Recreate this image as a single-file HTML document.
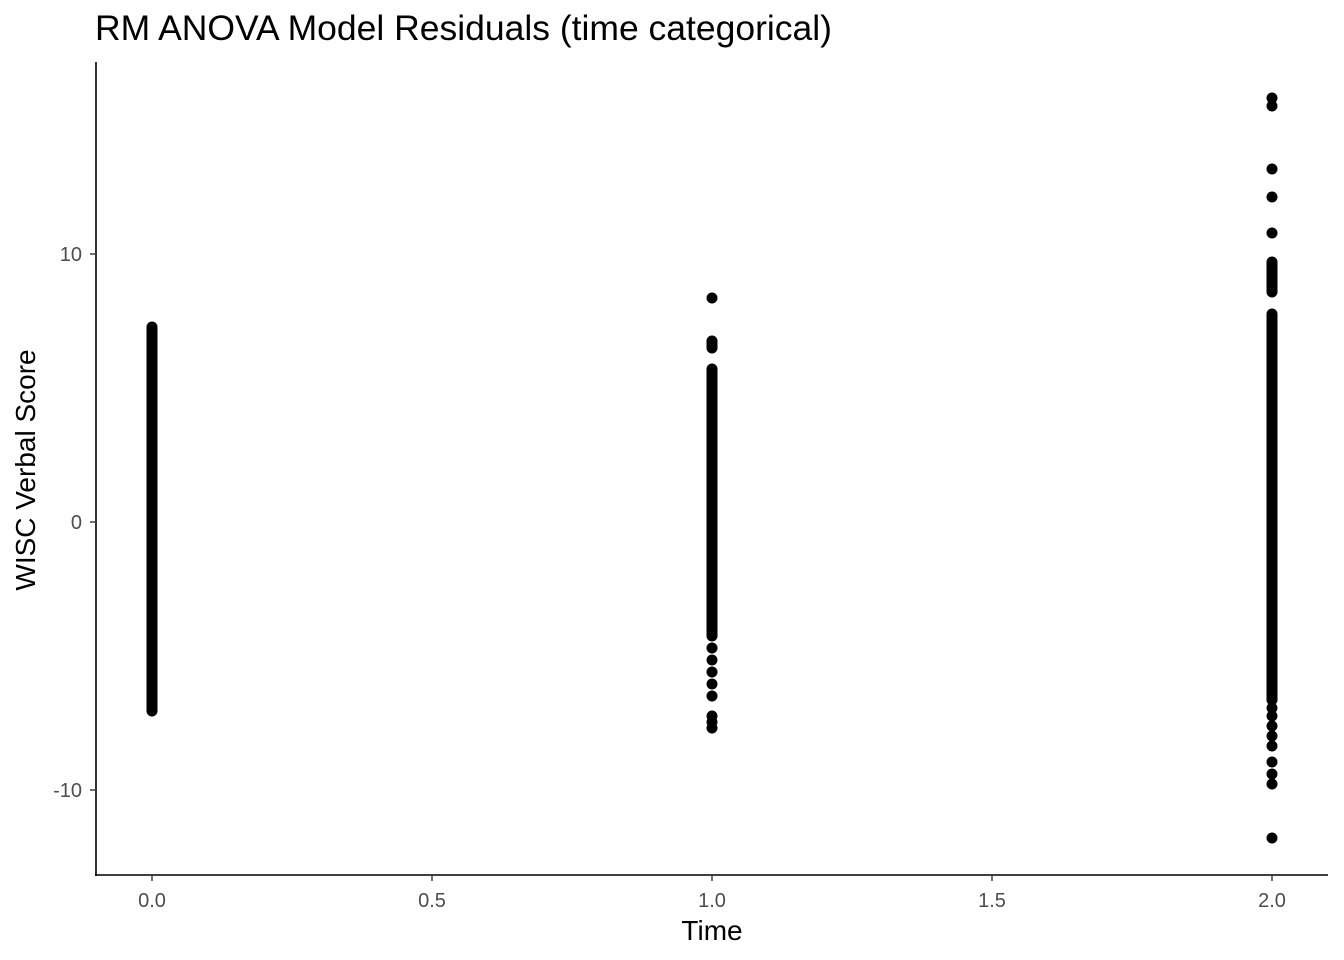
<!DOCTYPE html>
<html><head><meta charset="utf-8"><style>
html,body{margin:0;padding:0;background:#fff;}
svg{display:block;font-family:"Liberation Sans",Arial,sans-serif;}
</style></head><body>
<svg width="1344" height="960" viewBox="0 0 1344 960">
<rect width="1344" height="960" fill="#fff"/>
<text x="95" y="40" font-size="35" fill="#000" textLength="737" lengthAdjust="spacingAndGlyphs">RM ANOVA Model Residuals (time categorical)</text>
<line x1="96" y1="62" x2="96" y2="876" stroke="#000" stroke-width="1.6"/>
<line x1="95" y1="875" x2="1328" y2="875" stroke="#000" stroke-width="1.6"/>
<g stroke="#333" stroke-width="1.4">
<line x1="90" y1="254" x2="96" y2="254"/><line x1="90" y1="522" x2="96" y2="522"/><line x1="90" y1="790" x2="96" y2="790"/>
<line x1="152" y1="875" x2="152" y2="881"/><line x1="432" y1="875" x2="432" y2="881"/><line x1="712" y1="875" x2="712" y2="881"/><line x1="992" y1="875" x2="992" y2="881"/><line x1="1272" y1="875" x2="1272" y2="881"/>
</g>
<g font-size="20" fill="#4d4d4d" text-anchor="end">
<text x="82" y="261">10</text><text x="82" y="529">0</text><text x="82" y="797">-10</text>
</g>
<g font-size="20" fill="#4d4d4d" text-anchor="middle">
<text x="152" y="907">0.0</text><text x="432" y="907">0.5</text><text x="712" y="907">1.0</text><text x="992" y="907">1.5</text><text x="1272" y="907">2.0</text>
</g>
<text x="712" y="940" font-size="28" text-anchor="middle" fill="#000">Time</text>
<text transform="translate(35,470) rotate(-90)" font-size="28" text-anchor="middle" fill="#000">WISC Verbal Score</text>
<g stroke="#000" stroke-width="11" stroke-linecap="round">
<line x1="152" y1="327" x2="152" y2="711"/>
<line x1="712" y1="341" x2="712" y2="348"/>
<line x1="712" y1="369" x2="712" y2="636"/>
<line x1="1272" y1="262" x2="1272" y2="292"/>
<line x1="1272" y1="314" x2="1272" y2="700"/>
</g>
<g fill="#000">
<circle cx="712" cy="298" r="5.5"/>
<circle cx="712" cy="648" r="5.5"/><circle cx="712" cy="660" r="5.5"/><circle cx="712" cy="672" r="5.5"/><circle cx="712" cy="684" r="5.5"/><circle cx="712" cy="696" r="5.5"/><circle cx="712" cy="716" r="5.5"/><circle cx="712" cy="722" r="5.5"/><circle cx="712" cy="728" r="5.5"/>
<circle cx="1272" cy="98" r="5.5"/><circle cx="1272" cy="106" r="5.5"/><circle cx="1272" cy="169" r="5.5"/><circle cx="1272" cy="197" r="5.5"/><circle cx="1272" cy="233" r="5.5"/>
<circle cx="1272" cy="708" r="5.5"/><circle cx="1272" cy="716" r="5.5"/><circle cx="1272" cy="726" r="5.5"/><circle cx="1272" cy="736" r="5.5"/><circle cx="1272" cy="746" r="5.5"/><circle cx="1272" cy="762" r="5.5"/><circle cx="1272" cy="774" r="5.5"/><circle cx="1272" cy="784" r="5.5"/><circle cx="1272" cy="838" r="5.5"/>
</g>
</svg>
</body></html>
